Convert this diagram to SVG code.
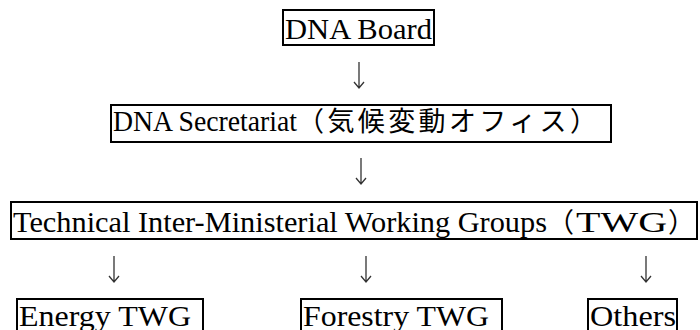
<svg xmlns="http://www.w3.org/2000/svg" width="700" height="330" viewBox="0 0 700 330">
<style>
.box{fill:none;stroke:#000;stroke-width:2}
.t{font-family:"Liberation Serif","Times New Roman",serif;font-size:29px;fill:#000}
.j{font-family:"Noto Sans CJK JP","Noto Sans CJK SC",sans-serif;font-size:27px;fill:#000}
.arr{fill:none;stroke:#333;stroke-width:1.3}
</style>
<rect width="700" height="330" fill="#fff"/>
<g id="connectors">
<path class="arr" d="M359 62V88M354 82L359 88L364 82"/>
<path class="arr" d="M361 158V184M356 178L361 184L366 178"/>
<path class="arr" d="M114 256V282M109 276L114 282L119 276"/>
<path class="arr" d="M366 256V282M361 276L366 282L371 276"/>
<path class="arr" d="M646 256V282M641 276L646 282L651 276"/>
</g>
<g id="dna-board">
<rect class="box" x="283" y="10" width="151" height="35"/>
<text class="t" x="285" y="39" textLength="147" lengthAdjust="spacingAndGlyphs">DNA Board</text>
</g>
<g id="dna-secretariat">
<rect class="box" x="111" y="105" width="500" height="37"/>
<text class="t" x="113" y="131" textLength="184" lengthAdjust="spacingAndGlyphs">DNA Secretariat</text>
<text class="j" x="297" y="131" textLength="300" lengthAdjust="spacing">（気候変動オフィス）</text>
</g>
<g id="twg">
<rect class="box" x="11" y="202" width="686" height="37"/>
<text class="t" x="13" y="232" textLength="534" lengthAdjust="spacingAndGlyphs">Technical Inter-Ministerial Working Groups</text>
<text class="j" x="547" y="232">（</text>
<text class="t" x="576" y="232" textLength="91" lengthAdjust="spacingAndGlyphs">TWG</text>
<text class="j" x="668" y="232">）</text>
</g>
<g id="energy-twg">
<rect class="box" x="17" y="299" width="186" height="45"/>
<text class="t" x="19" y="326" textLength="172" lengthAdjust="spacingAndGlyphs">Energy TWG</text>
</g>
<g id="forestry-twg">
<rect class="box" x="301" y="299" width="201" height="45"/>
<text class="t" x="303" y="326" textLength="186" lengthAdjust="spacingAndGlyphs">Forestry TWG</text>
</g>
<g id="others">
<rect class="box" x="588" y="299" width="89" height="45"/>
<text class="t" x="590" y="326" textLength="86" lengthAdjust="spacingAndGlyphs">Others</text>
</g>
</svg>
